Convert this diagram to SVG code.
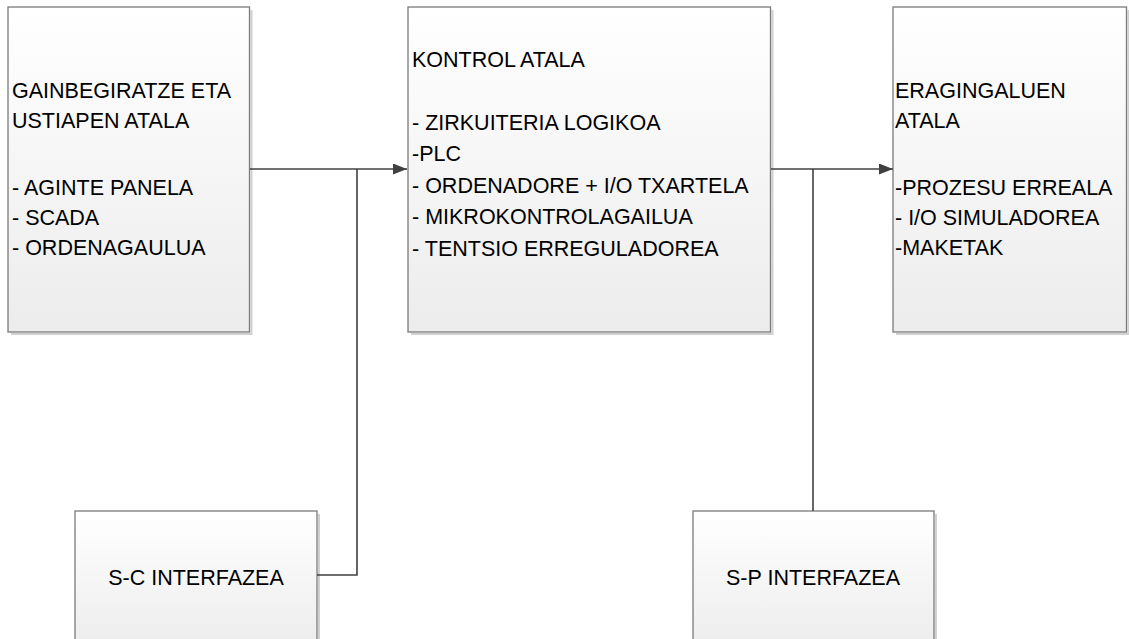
<svg xmlns="http://www.w3.org/2000/svg" width="1129" height="639" viewBox="0 0 1129 639">
<defs>
<linearGradient id="g" x1="0" y1="0" x2="0" y2="1">
<stop offset="0" stop-color="#ffffff"/>
<stop offset="1" stop-color="#ececec"/>
</linearGradient>
<marker id="arr" markerWidth="14" markerHeight="11" refX="14" refY="5.5" orient="auto" markerUnits="userSpaceOnUse">
<path d="M0,0 L14,5.5 L0,11 Z" fill="#404040"/>
</marker>
</defs>
<style>
.box{fill:url(#g);stroke:#7a7a7a;stroke-width:1.3}
.sh{fill:none;stroke:#d0d0d0;stroke-width:2}
.t{font-family:"Liberation Sans",Arial,sans-serif;font-size:21.5px;fill:#000}
.c{fill:none;stroke:#404040;stroke-width:1.6}
</style>
<rect width="1129" height="639" fill="#ffffff"/>
<g id="node-gainbegiratze">
<path class="sh" d="M251.5,10 V334 H11"/>
<rect class="box" x="8" y="7" width="241.5" height="325"/>
<text class="t" x="12" y="98">GAINBEGIRATZE ETA</text>
<text class="t" x="12" y="128">USTIAPEN ATALA</text>
<text class="t" x="12" y="195">- AGINTE PANELA</text>
<text class="t" x="12" y="225">- SCADA</text>
<text class="t" x="12" y="255">- ORDENAGAULUA</text>
</g>
<g id="node-kontrol">
<path class="sh" d="M772.5,10 V334 H411"/>
<rect class="box" x="408" y="7" width="362.5" height="325"/>
<text class="t" x="412" y="67">KONTROL ATALA</text>
<text class="t" x="412" y="130">- ZIRKUITERIA LOGIKOA</text>
<text class="t" x="412" y="161">-PLC</text>
<text class="t" x="412" y="193">- ORDENADORE + I/O TXARTELA</text>
<text class="t" x="412" y="224">- MIKROKONTROLAGAILUA</text>
<text class="t" x="412" y="256">- TENTSIO ERREGULADOREA</text>
</g>
<g id="node-eragingaluen">
<path class="sh" d="M1128.5,10 V334 H896"/>
<rect class="box" x="893" y="7" width="233.5" height="325"/>
<text class="t" x="895" y="98">ERAGINGALUEN</text>
<text class="t" x="895" y="128">ATALA</text>
<text class="t" x="895" y="195">-PROZESU ERREALA</text>
<text class="t" x="895" y="225">- I/O SIMULADOREA</text>
<text class="t" x="895" y="255">-MAKETAK</text>
</g>
<g id="node-sc">
<path class="sh" d="M319,514 V645"/>
<rect class="box" x="75" y="511" width="242" height="140"/>
<text class="t" x="196" y="585" text-anchor="middle">S-C INTERFAZEA</text>
</g>
<g id="node-sp">
<path class="sh" d="M936,514 V645"/>
<rect class="box" x="693" y="511" width="241" height="140"/>
<text class="t" x="813" y="585" text-anchor="middle">S-P INTERFAZEA</text>
</g>
<g id="connectors">
<path class="c" d="M250,169 H407" marker-end="url(#arr)"/>
<path class="c" d="M317,575 H357 V169"/>
<path class="c" d="M771,169 H893" marker-end="url(#arr)"/>
<path class="c" d="M813,511 V169"/>
</g>
</svg>
